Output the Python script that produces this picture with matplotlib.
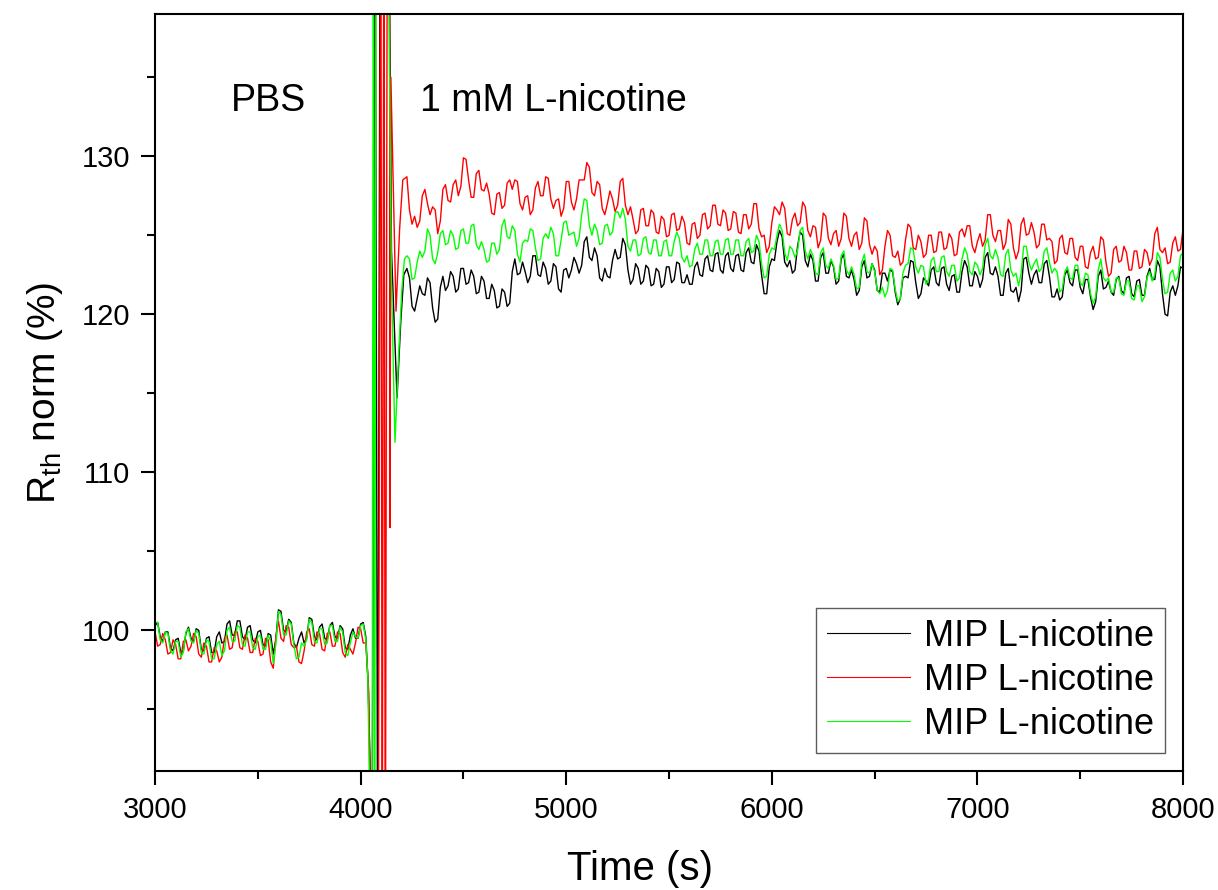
import numpy as np
import matplotlib
matplotlib.use("Agg")
import matplotlib.pyplot as plt
from matplotlib.ticker import MultipleLocator

plt.rcParams["font.family"] = ["Liberation Sans", "DejaVu Sans"]

# sampling grids (s): readings every 25 s, plus the in-between readings
pre_t = np.arange(3000, 4026, 25)
post_t = np.arange(4225, 8001, 25)

# PBS baseline, 3000-4025 s
black_pre = [100.3, 99.6, 99.9, 98.9, 99.4, 98.6, 99.8, 99.5,
             100.1, 98.8, 99.5, 98.6, 99.6, 99.2, 100.4, 99.7,
             100.6, 99.6, 100.2, 99.4, 99.9, 99.1, 99.8, 98.5,
             101.3, 100.0, 100.7, 99.2, 99.5, 99.2, 100.8, 99.6,
             100.2, 99.5, 100.3, 99.6, 100.3, 98.9, 99.7, 99.5,
             100.4, 99.6]
black_pre_mid = [100.5, 99.3, 99.9, 98.7, 99.5, 98.7, 100.2, 99.3,
                 100.0, 98.7, 99.6, 98.6, 99.9, 99.3, 100.6, 99.7,
                 100.6, 99.4, 100.3, 99.2, 100.0, 99.0, 99.7, 99.4,
                 101.2, 99.9, 100.5, 98.9, 99.9, 99.5, 100.7, 99.4,
                 100.4, 99.4, 100.5, 99.5, 100.1, 98.8, 100.1, 99.5,
                 100.5]
red_pre = [99.9, 99.1, 99.4, 98.6, 99.1, 98.2, 99.4, 99.0,
           99.6, 98.3, 99.0, 98.0, 98.7, 98.3, 99.7, 98.9,
           99.9, 98.8, 99.5, 98.6, 99.3, 98.5, 99.4, 97.6,
           100.6, 99.3, 100.2, 98.9, 98.0, 98.7, 100.1, 99.0,
           99.8, 98.7, 99.9, 99.0, 99.8, 98.3, 98.8, 99.2,
           100.1, 99.2]
red_pre_mid = [99.0, 99.8, 98.5, 99.4, 98.2, 99.3, 98.7, 99.8,
               98.5, 99.2, 98.0, 98.9, 98.0, 99.5, 98.8, 99.9,
               98.9, 99.7, 98.6, 99.5, 98.4, 99.5, 98.0, 99.6,
               99.5, 100.3, 99.1, 99.0, 97.9, 99.9, 99.1, 99.9,
               98.8, 99.8, 99.0, 99.9, 98.6, 99.1, 98.5, 100.2,
               99.2]
green_pre = [100.5, 99.4, 99.9, 98.7, 99.3, 98.3, 99.9, 99.3,
             100.0, 98.6, 99.4, 98.2, 99.1, 98.4, 100.0, 99.3,
             100.3, 99.1, 99.9, 98.9, 99.6, 98.8, 99.7, 97.9,
             101.2, 99.7, 100.6, 99.1, 98.3, 99.0, 100.7, 99.3,
             100.1, 99.1, 100.3, 99.3, 100.2, 98.6, 99.2, 99.6,
             100.3, 99.4]
green_pre_mid = [100.5, 99.2, 99.8, 98.5, 99.3, 98.6, 100.1, 99.2,
                 99.8, 98.5, 99.3, 98.2, 99.3, 98.7, 100.2, 99.3,
                 100.2, 99.0, 99.9, 98.8, 99.7, 98.8, 99.3, 99.1,
                 101.0, 99.7, 100.4, 98.2, 99.2, 99.4, 100.5, 99.2,
                 100.1, 99.2, 100.3, 99.3, 99.9, 98.4, 99.9, 99.5,
                 100.4]

# injection artefacts, 4025-4225 s
black_spike_t = [4035, 4045, 4055, 4070, 4078, 4083, 4095, 4135, 4150, 4177, 4195, 4210]
black_spike = [97.0, 92.0, 80.0, 150.0, 111.0, 80.0, 150.0, 150.0, 124.0, 114.7, 119.5, 122.5]
red_spike_t = [4040, 4050, 4085, 4098, 4105, 4113, 4120, 4130, 4140, 4143, 4147, 4172, 4190, 4205]
red_spike = [96.0, 85.0, 80.0, 150.0, 80.0, 150.0, 80.0, 150.0, 150.0, 106.5, 135.0, 120.2, 125.5, 128.5]
green_spike_t = [4035, 4045, 4055, 4062, 4068, 4075, 4130, 4150, 4167, 4185, 4200, 4213]
green_spike = [97.0, 88.0, 80.0, 150.0, 80.0, 150.0, 150.0, 122.0, 111.9, 117.5, 121.5, 123.5]

# 1 mM L-nicotine, 4225-8000 s
black_post = [122.9, 120.5, 121.0, 121.3, 122.3, 120.4, 119.7, 122.4,
              121.8, 122.4, 121.6, 122.9, 122.0, 122.4, 121.4, 122.1,
              121.0, 121.5, 120.5, 121.4, 120.7, 123.5, 122.6, 122.7,
              122.4, 123.7, 122.4, 122.9, 122.1, 123.0, 121.4, 122.9,
              122.8, 123.2, 123.1, 124.9, 123.4, 123.7, 122.1, 122.4,
              123.4, 123.5, 124.8, 122.8, 122.2, 122.9, 122.1, 122.9,
              121.9, 122.7, 121.9, 123.0, 122.2, 123.2, 122.0, 121.9,
              123.0, 122.5, 123.5, 122.8, 123.8, 122.8, 123.7, 122.9,
              123.7, 122.8, 123.9, 123.3, 124.4, 122.5, 121.3, 123.5,
              124.6, 124.9, 123.0, 122.6, 124.3, 125.0, 123.0, 123.4,
              122.1, 123.9, 122.6, 123.0, 122.1, 123.8, 122.3, 122.2,
              121.5, 123.4, 122.4, 122.8, 121.4, 122.6, 122.8, 121.4,
              121.0, 122.4, 123.4, 122.0, 121.3, 122.1, 122.8, 122.0,
              122.9, 121.9, 122.4, 121.4, 122.7, 123.0, 121.8, 122.4,
              122.2, 123.9, 122.5, 122.4, 121.2, 122.9, 121.4, 120.8,
              123.5, 122.6, 122.5, 122.0, 123.2, 122.4, 121.1, 120.9,
              122.5, 122.0, 122.8, 121.7, 122.2, 121.1, 120.8, 122.8,
              121.7, 121.4, 122.2, 121.5, 122.3, 121.3, 122.1, 121.2,
              122.4, 122.2, 123.4, 121.3, 119.9, 121.8, 121.8, 122.9]
black_post_mid = [122.3, 120.2, 121.8, 121.2, 122.0, 119.5, 121.7, 121.5,
                  122.7, 121.4, 122.9, 121.9, 122.8, 121.3, 122.4, 121.0,
                  121.9, 120.4, 121.6, 120.5, 122.7, 122.5, 123.3, 122.0,
                  123.7, 122.5, 123.3, 121.9, 123.2, 121.6, 122.8, 122.3,
                  123.6, 122.6, 124.6, 123.6, 124.2, 122.3, 122.9, 122.3,
                  124.1, 123.6, 124.4, 121.9, 123.2, 121.9, 123.1, 121.8,
                  122.9, 121.7, 123.0, 122.0, 123.3, 122.0, 122.5, 121.9,
                  123.3, 122.4, 123.7, 122.7, 123.9, 122.6, 123.9, 122.7,
                  123.8, 122.7, 124.2, 123.2, 124.0, 121.3, 123.0, 123.4,
                  125.3, 123.3, 123.4, 122.8, 125.2, 123.4, 123.8, 122.1,
                  123.6, 122.6, 123.4, 121.9, 123.5, 122.4, 122.8, 121.2,
                  123.0, 122.3, 123.2, 121.5, 122.6, 122.1, 122.7, 120.6,
                  122.3, 122.3, 123.3, 121.0, 122.3, 121.8, 123.0, 121.8,
                  123.0, 121.5, 122.5, 121.4, 123.4, 121.8, 122.7, 121.7,
                  123.6, 122.6, 123.0, 121.2, 122.6, 121.5, 121.7, 121.5,
                  123.6, 121.9, 122.8, 122.0, 123.4, 121.1, 121.6, 121.1,
                  122.8, 121.8, 122.8, 121.3, 122.2, 120.3, 122.4, 121.6,
                  122.1, 121.2, 122.4, 121.3, 122.4, 121.1, 122.2, 121.2,
                  122.9, 122.2, 123.0, 120.0, 121.4, 121.2, 123.0]
red_post = [128.7, 125.7, 125.5, 127.5, 127.0, 126.8, 125.1, 127.9,
            127.2, 128.2, 127.5, 129.9, 128.5, 127.4, 129.1, 127.8,
            127.6, 126.3, 127.7, 126.9, 128.5, 128.5, 127.0, 127.4,
            126.3, 128.0, 127.5, 128.7, 127.3, 127.2, 126.2, 128.4,
            127.1, 127.3, 128.5, 129.6, 127.7, 128.4, 126.7, 127.0,
            127.3, 126.9, 128.6, 126.3, 126.0, 125.3, 126.7, 125.6,
            126.4, 125.1, 126.0, 125.0, 126.4, 125.4, 125.8, 124.4,
            125.8, 125.0, 126.4, 125.6, 126.9, 125.6, 126.4, 125.4,
            126.4, 125.1, 126.3, 125.7, 127.0, 124.9, 123.9, 125.8,
            126.6, 127.1, 125.1, 126.0, 125.6, 127.1, 125.3, 125.6,
            124.2, 126.4, 124.8, 125.1, 124.3, 126.4, 124.8, 125.0,
            124.1, 126.1, 124.4, 124.3, 122.5, 124.3, 125.0, 123.6,
            123.1, 124.7, 125.5, 124.1, 124.6, 123.8, 125.0, 124.0,
            125.2, 124.2, 124.8, 123.8, 125.4, 125.6, 124.3, 124.6,
            124.3, 126.3, 125.0, 125.3, 124.1, 126.0, 124.2, 124.0,
            126.1, 125.1, 125.2, 124.4, 125.7, 124.8, 123.2, 124.8,
            123.9, 124.8, 123.6, 124.3, 123.0, 123.9, 123.5, 124.9,
            123.3, 122.6, 124.3, 123.4, 123.9, 122.8, 124.0, 123.0,
            123.9, 123.5, 125.5, 123.9, 123.2, 124.5, 124.0, 125.4]
red_post_mid = [126.6, 126.2, 125.9, 127.9, 126.3, 126.6, 125.9, 128.2,
                127.1, 128.5, 128.1, 129.8, 127.4, 128.9, 127.9, 128.3,
                126.4, 127.6, 126.7, 128.3, 127.9, 128.4, 126.6, 127.5,
                126.6, 128.4, 127.5, 128.6, 126.7, 127.3, 126.7, 128.4,
                126.6, 128.5, 128.5, 129.3, 127.5, 128.2, 126.3, 127.8,
                126.5, 128.4, 126.9, 126.8, 125.1, 126.6, 125.6, 126.6,
                125.2, 126.2, 124.9, 126.3, 125.3, 126.2, 124.5, 125.7,
                124.8, 126.3, 125.4, 126.9, 125.7, 126.6, 125.3, 126.5,
                125.2, 126.3, 125.4, 127.0, 125.4, 125.0, 124.3, 126.8,
                126.3, 126.7, 125.0, 126.4, 125.8, 126.8, 124.9, 125.5,
                124.7, 126.2, 124.4, 125.3, 124.8, 126.2, 124.3, 125.2,
                124.5, 125.9, 123.8, 124.0, 122.8, 125.3, 123.7, 124.0,
                123.3, 125.7, 124.2, 125.0, 123.6, 125.0, 123.9, 125.2,
                124.1, 125.1, 123.7, 125.2, 124.9, 125.6, 123.9, 125.1,
                124.7, 126.3, 124.6, 125.3, 124.5, 125.7, 123.5, 125.7,
                125.0, 125.8, 124.2, 125.7, 124.7, 124.6, 123.4, 125.0,
                123.8, 124.8, 123.4, 124.3, 122.9, 124.3, 123.6, 124.7,
                122.4, 124.1, 123.3, 124.3, 122.8, 124.0, 122.9, 124.1,
                123.1, 125.1, 124.1, 124.2, 123.3, 124.9, 124.1]
green_post = [123.7, 122.2, 123.3, 123.6, 125.4, 123.5, 123.9, 125.3,
              124.5, 125.0, 124.2, 125.4, 124.5, 125.7, 124.1, 124.1,
              123.4, 124.5, 124.1, 126.0, 124.8, 125.3, 123.3, 124.7,
              125.4, 124.2, 123.5, 125.1, 125.5, 123.7, 124.7, 125.9,
              125.1, 124.3, 126.3, 127.2, 125.0, 125.3, 124.5, 125.7,
              125.2, 126.5, 126.7, 124.3, 124.7, 123.7, 124.8, 123.9,
              124.7, 123.7, 124.6, 123.7, 124.6, 124.8, 123.3, 123.0,
              124.1, 123.8, 124.7, 123.7, 124.6, 123.8, 124.7, 123.8,
              124.7, 123.7, 124.6, 123.9, 125.0, 123.2, 122.4, 124.2,
              125.0, 125.3, 123.4, 124.1, 124.0, 125.5, 123.5, 123.7,
              122.5, 124.2, 122.9, 123.1, 122.3, 124.0, 122.5, 122.5,
              121.7, 123.8, 122.6, 122.7, 121.3, 121.1, 122.9, 121.6,
              121.0, 123.1, 124.2, 123.0, 123.1, 121.9, 123.4, 122.7,
              123.6, 122.7, 123.1, 122.1, 123.5, 123.8, 122.5, 123.1,
              122.9, 124.8, 123.5, 123.6, 122.4, 124.1, 122.4, 121.8,
              124.3, 123.3, 123.2, 122.7, 124.0, 123.3, 122.9, 121.4,
              122.7, 122.3, 123.1, 122.0, 122.6, 121.3, 121.1, 123.5,
              122.1, 121.4, 122.3, 121.3, 122.1, 121.0, 121.8, 120.8,
              122.3, 122.1, 123.9, 122.2, 121.4, 122.8, 122.4, 123.9]
green_post_mid = [123.5, 122.3, 124.0, 124.0, 125.0, 123.2, 125.1, 124.4,
                  125.3, 124.1, 125.3, 124.5, 125.6, 124.4, 124.6, 123.3,
                  124.5, 123.8, 125.6, 124.9, 125.6, 123.8, 124.5, 124.6,
                  125.3, 123.4, 124.8, 124.8, 125.1, 123.7, 125.8, 125.0,
                  125.2, 124.8, 127.3, 125.6, 125.7, 124.4, 125.6, 125.0,
                  126.4, 126.1, 126.0, 124.0, 124.7, 123.8, 124.9, 123.8,
                  124.7, 123.7, 124.7, 123.7, 125.2, 123.6, 123.7, 123.1,
                  124.5, 123.8, 124.7, 123.7, 124.7, 123.8, 124.8, 123.8,
                  124.7, 123.7, 124.8, 124.0, 124.6, 122.3, 123.8, 124.1,
                  125.7, 123.9, 124.3, 123.6, 125.3, 124.0, 124.1, 122.6,
                  123.9, 123.1, 123.5, 122.2, 123.7, 122.8, 123.0, 121.6,
                  123.3, 122.7, 123.2, 121.5, 121.7, 121.5, 122.8, 120.8,
                  122.6, 123.2, 124.1, 122.6, 123.0, 122.2, 123.6, 122.7,
                  123.7, 122.4, 123.1, 122.3, 124.2, 122.7, 123.3, 122.5,
                  124.4, 123.7, 124.1, 122.5, 123.8, 122.8, 122.6, 122.6,
                  124.3, 122.8, 123.5, 122.9, 124.2, 122.6, 122.7, 121.6,
                  123.0, 122.2, 123.1, 121.8, 122.5, 120.7, 122.8, 122.3,
                  122.3, 121.4, 122.3, 121.2, 122.1, 120.9, 121.8, 121.1,
                  122.7, 122.5, 123.6, 121.3, 122.6, 122.1, 123.7]

labels = ["MIP L-nicotine", "MIP L-nicotine", "MIP L-nicotine"]
colors = ["#000000", "#ff0000", "#00ff00"]

series = [
    (black_pre, black_pre_mid, black_spike_t, black_spike, black_post, black_post_mid),
    (red_pre, red_pre_mid, red_spike_t, red_spike, red_post, red_post_mid),
    (green_pre, green_pre_mid, green_spike_t, green_spike, green_post, green_post_mid),
]


def weave(grid, vals, mids):
    # put the in-between readings between the 25 s readings
    t = np.empty(2 * len(grid) - 1)
    v = np.empty(2 * len(grid) - 1)
    t[0::2] = grid
    t[1::2] = grid[:-1] + 12.5
    v[0::2] = vals
    v[1::2] = mids
    return t, v


fig = plt.figure(figsize=(12.18, 8.9), dpi=100)
ax = fig.add_axes([0.1273, 0.1337, 0.8440, 0.8506])

for (pre, pre_m, st, sv, post, post_m), c, lab in zip(series, colors, labels):
    t1, v1 = weave(pre_t, pre, pre_m)
    t3, v3 = weave(post_t, post, post_m)
    t = np.concatenate([t1, st, t3])
    v = np.concatenate([v1, sv, v3])
    ax.plot(t, v, color=c, lw=1.0, label=lab)

ax.set_xlim(3000, 8000)
ax.set_ylim(91.1, 139.0)
ax.set_yticks([100, 110, 120, 130])
ax.xaxis.set_major_locator(MultipleLocator(1000))
ax.xaxis.set_minor_locator(MultipleLocator(500))
ax.yaxis.set_minor_locator(MultipleLocator(5))
ax.tick_params(which="major", direction="out", length=10, width=1.5, labelsize=21, pad=8)
ax.tick_params(which="minor", direction="out", length=6, width=1.5)
for s in ax.spines.values():
    s.set_linewidth(1.5)

ax.set_xlabel("Time (s)", fontsize=29)
ax.xaxis.set_label_coords(0.472, -0.105)
ax.set_ylabel(r"R$_{\mathregular{th}}$ norm (%)", fontsize=28, labelpad=12)

ax.text(3554, 133.5, "PBS", fontsize=27, ha="center", va="center")
ax.text(4289, 133.5, "1 mM L-nicotine", fontsize=27, ha="left", va="center")

leg = ax.legend(loc="lower right", fontsize=26, frameon=True, fancybox=False,
                edgecolor="#333333", handlelength=2.3, labelspacing=0.25,
                borderaxespad=0.5, handletextpad=0.4, borderpad=0.3)
leg.get_frame().set_linewidth(1.0)
for line in leg.get_lines():
    line.set_linewidth(0.8)

fig.savefig("out.png", dpi=100)
